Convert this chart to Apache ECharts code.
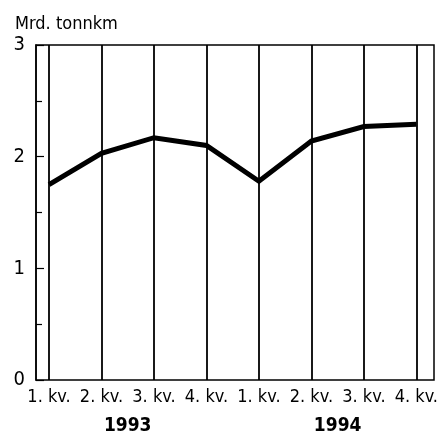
<!DOCTYPE html>
<html>
<head>
<meta charset="utf-8">
<script src="https://cdn.jsdelivr.net/npm/echarts@6/dist/echarts.min.js"></script>
<style>
    html, body { margin: 0; padding: 0; background: #fff; }
    #chart { width: 441px; height: 440px; }
</style>
</head>
<body>
<div id="chart"></div>
<script>
var quarters = ['1. kv.', '2. kv.', '3. kv.', '4. kv.', '1. kv.', '2. kv.', '3. kv.', '4. kv.'];
var values = [1.75, 2.03, 2.17, 2.10, 1.78, 2.14, 2.27, 2.29];
var years = ['1993', '1994'];
var yTicks = [0, 1, 2, 3];

var font = '"DejaVu Sans Condensed", "Liberation Sans Narrow", sans-serif';

function getChart() {
    var myChart = echarts.init(document.getElementById('chart'));
    var option = {
        backgroundColor: '#fff',
        animation: false,
        title: {
            text: 'Mrd. tonnkm',
            left: 10,
            top: 10,
            textStyle: { fontFamily: font, fontSize: 18, fontWeight: 'normal', color: '#000' }
        },
        grid: [
            // frame
            { left: 36, right: 7, top: 45, bottom: 60, show: true, borderColor: '#000', borderWidth: 1.5, backgroundColor: 'transparent' },
            // data area
            { left: 49, right: 19, top: 45, bottom: 60 }
        ],
        xAxis: [
            {
                gridIndex: 0, type: 'value', min: 0, max: 1,
                axisLine: { show: false }, axisTick: { show: false }, axisLabel: { show: false }, splitLine: { show: false }
            },
            {
                gridIndex: 1, type: 'category', data: quarters, boundaryGap: false,
                axisLine: { show: false },
                axisTick: { show: false },
                axisLabel: { interval: 0, margin: 8, fontFamily: font, fontSize: 18, color: '#000' },
                splitLine: { show: true, lineStyle: { color: '#000', width: 1.8 } }
            },
            {
                gridIndex: 1, type: 'value', min: 0, max: 7, interval: 0.5, position: 'bottom', offset: 29,
                axisLine: { show: false }, axisTick: { show: false }, splitLine: { show: false },
                axisLabel: {
                    fontFamily: font, fontSize: 19, fontWeight: 'bold', color: '#000',
                    formatter: function (v) {
                        var i = (v - 1.5) / 4;
                        return (i === 0 || i === 1) ? years[i] : '';
                    }
                }
            }
        ],
        yAxis: [
            {
                gridIndex: 0, type: 'value', min: 0, max: 3, interval: 1,
                axisLine: { show: true, lineStyle: { color: '#000', width: 1.5 } },
                axisTick: { show: true, inside: true, length: 8, lineStyle: { color: '#000', width: 1.2 } },
                minorTick: { show: true, splitNumber: 2, length: 6, lineStyle: { color: '#000', width: 1.2 } },
                axisLabel: {
                    margin: 11, fontFamily: font, fontSize: 20, color: '#000',
                    formatter: function (v) { return yTicks.indexOf(v) >= 0 ? String(v) : ''; }
                },
                splitLine: { show: false }
            },
            {
                gridIndex: 1, type: 'value', min: 0, max: 3, show: false
            }
        ],
        series: [
            {
                type: 'line',
                xAxisIndex: 1,
                yAxisIndex: 1,
                data: values,
                symbol: 'none',
                lineStyle: { color: '#000', width: 5, join: 'miter' }
            }
        ]
    };
    myChart.setOption(option);
}
getChart();
</script>
</body>
</html>
